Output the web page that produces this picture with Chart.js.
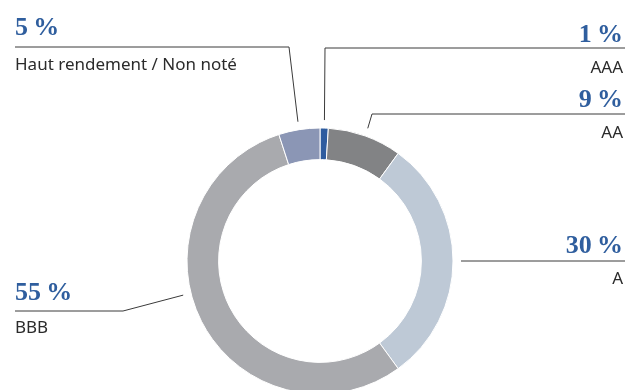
<!DOCTYPE html>
<html>
<head>
<meta charset="utf-8">
<script src="https://cdn.jsdelivr.net/npm/chart.js@4.4.1/dist/chart.umd.min.js"></script>
<style>
    html, body { margin: 0; padding: 0; background: #fff; overflow: hidden; }
    #wrap { position: relative; width: 625px; height: 400px; }
</style>
</head>
<body>
<div id="wrap"><canvas id="ratingChart"></canvas></div>
<script>
// ── DATA ──
const ratings     = ['AAA', 'AA', 'A', 'BBB', 'Haut rendement / Non noté'];
const shares      = [1, 9, 30, 55, 5];
const sliceColors = ['#2e5c9f', '#828385', '#bec9d6', '#a9aaae', '#8b96b5'];

// callout placement, one per slice (lineY null = straight horizontal from the ring)
const callouts = [
    { side: 'right', lineY: 48,   valueY: 42,  nameY: 73,  elbowX: 325 },
    { side: 'right', lineY: 114,  valueY: 107, nameY: 138, elbowX: 372 },
    { side: 'right', lineY: null, valueY: 253, nameY: 284, elbowX: null },
    { side: 'left',  lineY: 311,  valueY: 300, nameY: 333, elbowX: 123, shift: 13 },
    { side: 'left',  lineY: 47,   valueY: 35,  nameY: 70,  elbowX: 289 },
];

const VALUE_FONT = 'bold 26px "Liberation Serif", "DejaVu Serif", serif';
const NAME_FONT  = '17px "Noto Sans", "Open Sans", sans-serif';

// ── CALLOUT PLUGIN ──
const calloutPlugin = {
    id: 'callouts',
    afterDatasetsDraw(chart) {
        const ctx  = chart.ctx;
        const arcs = chart.getDatasetMeta(0).data;
        const W    = chart.width;

        ctx.save();
        ctx.strokeStyle = '#3a3a3a';
        ctx.lineWidth = 1;

        arcs.forEach((arc, i) => {
            const c = callouts[i];
            const p = arc.getProps(['x', 'y', 'startAngle', 'endAngle', 'outerRadius'], true);
            const mid = (p.startAngle + p.endAngle) / 2 + (c.shift || 0) * Math.PI / 180;
            const r   = p.outerRadius + 8;
            const ax  = p.x + Math.cos(mid) * r;
            const ay  = p.y + Math.sin(mid) * r;
            const ly  = c.lineY === null ? ay : c.lineY;
            const ex  = c.elbowX === null ? ax : c.elbowX;
            const endX = c.side === 'right' ? W : 15;

            ctx.beginPath();
            ctx.moveTo(ax, ay);
            ctx.lineTo(ex, ly);
            ctx.lineTo(endX, ly);
            ctx.stroke();

            const tx = c.side === 'right' ? 623 : 15;
            ctx.textAlign = c.side === 'right' ? 'right' : 'left';
            ctx.textBaseline = 'alphabetic';

            ctx.fillStyle = '#2f5e9e';
            ctx.font = VALUE_FONT;
            ctx.fillText(shares[i] + '\u2009%', tx, c.valueY);

            ctx.fillStyle = '#2b2b2b';
            ctx.font = NAME_FONT;
            ctx.fillText(ratings[i], tx, c.nameY);
        });
        ctx.restore();
    }
};

// ── CHART ──
new Chart(document.getElementById('ratingChart'), {
    type: 'doughnut',
    data: {
        labels: ratings,
        datasets: [{
            data: shares,
            backgroundColor: sliceColors,
            borderColor: '#ffffff',
            borderWidth: 1,
        }]
    },
    options: {
        responsive: true,
        maintainAspectRatio: false,
        devicePixelRatio: 1,
        animation: false,
        radius: 133,
        cutout: 101,
        layout: { padding: { left: 187, right: 172, top: 128, bottom: 6 } },
        plugins: {
            legend: { display: false },
            tooltip: { enabled: false }
        }
    },
    plugins: [calloutPlugin]
});
</script>
</body>
</html>
